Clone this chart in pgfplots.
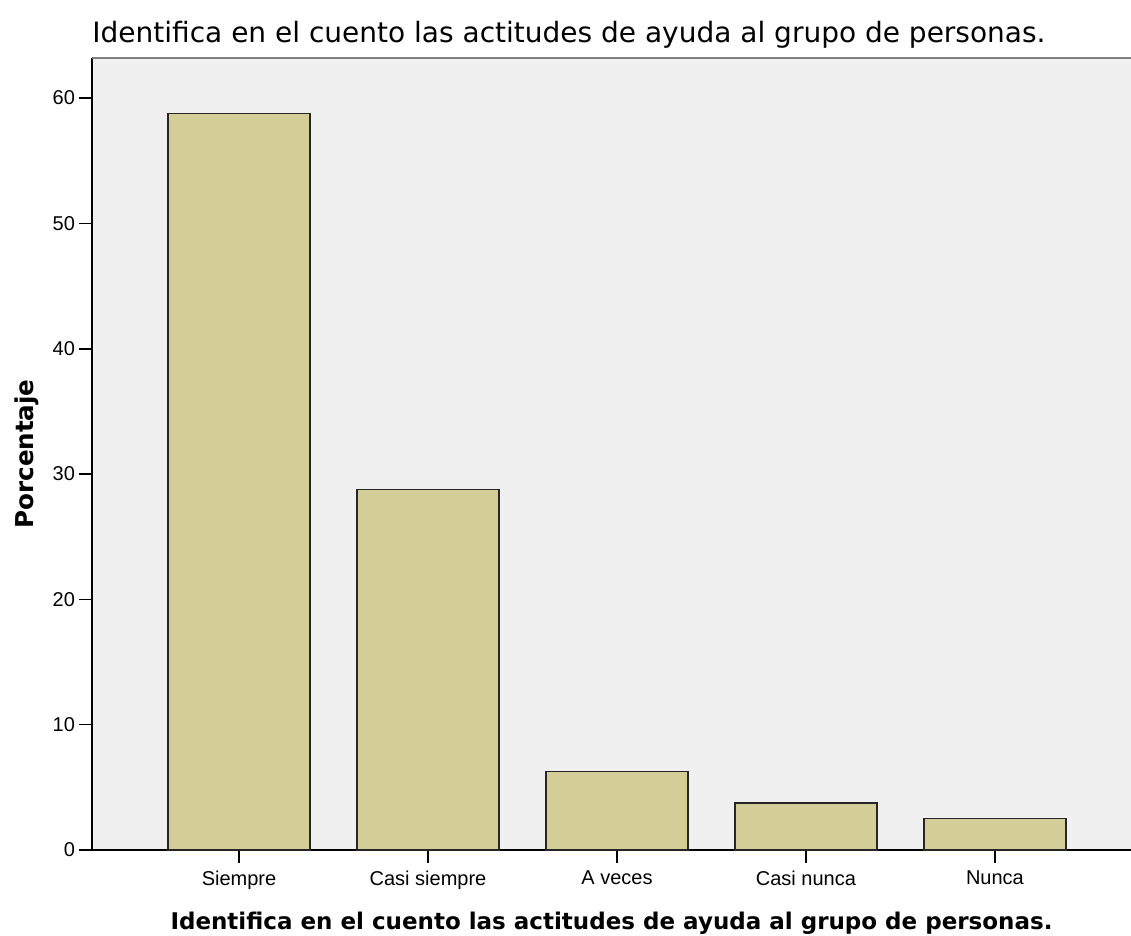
\documentclass[border=0pt]{standalone}
\usepackage{pgfplots}
\pgfplotsset{compat=1.18}
\usepackage{fontspec}
\setmainfont{Liberation Sans}
\newfontfamily\boldlab{DejaVu Sans}
\definecolor{barfill}{RGB}{211,206,151}
\definecolor{bgc}{RGB}{240,240,240}
\definecolor{topline}{RGB}{128,128,128}
\begin{document}
\begin{tikzpicture}
\begin{axis}[
  at={(46pt,43pt)}, anchor=south west,
  scale only axis,
  width=519.5pt, height=396pt,
  xmin=-0.778, xmax=4.72,
  ymin=0, ymax=63.2,
  axis background/.style={fill=bgc},
  axis x line*=bottom, axis y line*=left,
  axis line style={black, line width=0.8pt, -},
  xtick=data,
  xticklabels={Siempre, Casi siempre, A veces, Casi nunca, Nunca},
  ytick={0,10,20,30,40,50,60},
  tick align=outside,
  major tick length=6.5pt,
  tick style={black, line width=0.8pt},
  xtick pos=bottom, ytick pos=left,
  tick label style={font=\fontsize{10}{11}\selectfont},
  /pgf/number format/assume math mode=true,
  yticklabel style={xshift=1.5pt},
  xticklabel style={yshift=-0.5pt},
  title={Identifica en el cuento las actitudes de ayuda al grupo de personas.},
  title style={font=\boldlab\fontsize{14}{16}\selectfont, at={(axis description cs:0,1)}, anchor=base west, inner sep=0pt, yshift=1.5pt},
  xlabel={Identifica en el cuento las actitudes de ayuda al grupo de personas.},
  xlabel style={font=\boldlab\bfseries\fontsize{11.5}{13}\selectfont, at={(axis description cs:0.5,0)}, anchor=base, yshift=-40pt},
  ylabel={Porcentaje},
  ylabel style={font=\boldlab\bfseries\fontsize{12.3}{13}\selectfont, at={(axis description cs:0,0.5)}, anchor=base, yshift=29.5pt},
  clip=false,
]
\addplot[ybar, bar width=0.75, fill=barfill, draw=black!85, line width=0.7pt]
  coordinates {(0,58.75) (1,28.75) (2,6.25) (3,3.75) (4,2.5)};
\draw[topline, line width=1.2pt] (rel axis cs:0,1) -- (rel axis cs:1,1);
\end{axis}
\pgfresetboundingbox
\useasboundingbox (0,0) rectangle (565.5pt,468pt);
\end{tikzpicture}
\end{document}
